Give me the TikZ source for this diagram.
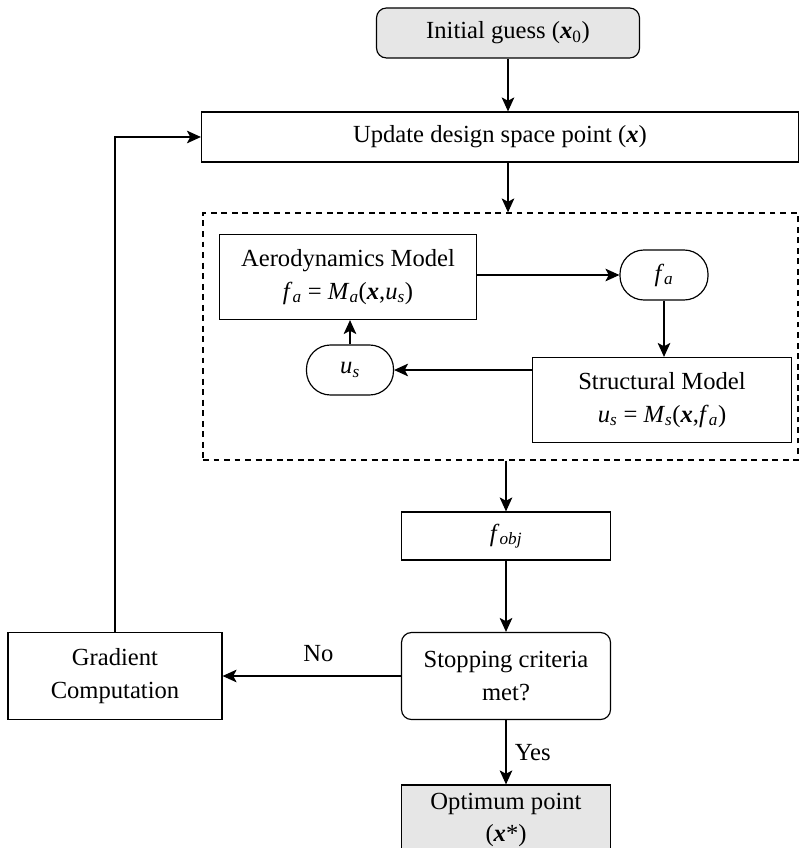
\documentclass[tikz,border=0pt]{standalone}
\usepackage{fontspec}
\setmainfont{Liberation Serif}
\usetikzlibrary{arrows.meta}

\definecolor{boxgray}{HTML}{E6E6E6}
\newcommand{\bx}{\textbf{\textit{x}}}
\newcommand{\lo}[1]{\textsubscript{\textit{#1}}}

\tikzset{
  block/.style={draw,line width=1pt,align=center,inner sep=0pt},
  term/.style={block,rounded corners=0.72cm},
  decide/.style={block,rounded corners=0.3cm},
  arr/.style={-{Stealth[length=0.42cm,width=0.38cm,inset=0.1cm]},line width=1pt},
  lbl/.style={inner sep=0pt}
}

\begin{document}
\begin{tikzpicture}[x=0.03cm,y=-0.03cm,font=\fontsize{21}{28}\selectfont]
  \useasboundingbox (0,0) rectangle (800,848);
  % main column
  \node[decide,fill=boxgray,minimum width=7.89cm,minimum height=1.5cm] (init) at (508,33) {Initial guess (\bx\textsubscript{0})};
  \node[block,minimum width=17.91cm,minimum height=1.5cm] (update) at (500,137) {Update design space point (\bx)};
  \node[draw,line width=1pt,dash pattern=on 5pt off 4pt,minimum width=17.85cm,minimum height=7.41cm] (loop) at (500.5,336.5) {};
  % coupled analysis
  \node[block,minimum width=7.71cm,minimum height=2.55cm] (aero) at (348,277) {Aerodynamics Model\\\textit{f}\lo{a} = \textit{M}\lo{a}(\bx,\textit{u}\lo{s})};
  \node[term,minimum width=2.64cm,minimum height=1.5cm] (fa) at (664,275) {\textit{f}\lo{a}};
  \node[block,minimum width=7.77cm,minimum height=2.55cm] (struct) at (662,400) {Structural Model\\\textit{u}\lo{s} = \textit{M}\lo{s}(\bx,\textit{f}\lo{a})};
  \node[term,minimum width=2.61cm,minimum height=1.5cm] (us) at (350,370) {\textit{u}\lo{s}};
  % objective and stopping
  \node[block,minimum width=6.27cm,minimum height=1.44cm] (fobj) at (506,536) {\textit{f}\lo{obj}};
  \node[decide,minimum width=6.27cm,minimum height=2.61cm] (stop) at (506,676) {Stopping criteria\\met?};
  \node[block,minimum width=6.42cm,minimum height=2.61cm] (grad) at (115,676) {Gradient\\Computation};
  \node[block,fill=boxgray,minimum width=6.27cm,minimum height=2.1cm] (opt) at (506,820) {Optimum point\\(\bx*)};

  \draw[arr] (init.south) -- (init.south |- update.north);
  \draw[arr] (update.south -| init) -- (loop.north -| init);
  \draw[arr] (aero.east |- fa) -- (fa.west);
  \draw[arr] (fa.south) -- (fa.south |- struct.north);
  \draw[arr] (struct.west |- us) -- (us.east);
  \draw[arr] (us.north) -- (us.north |- aero.south);
  \draw[arr] (loop.south -| fobj) -- (fobj.north);
  \draw[arr] (fobj.south) -- (stop.north);
  \draw[arr] (stop.west) -- (grad.east) node[lbl,midway,above=0.4cm,xshift=0.2cm] (no) {No};
  \draw[arr] (stop.south) -- (opt.north) node[lbl,midway,right=0.25cm] (yes) {Yes};
  \draw[arr] (grad.north) |- (update.west);
\end{tikzpicture}
\end{document}
